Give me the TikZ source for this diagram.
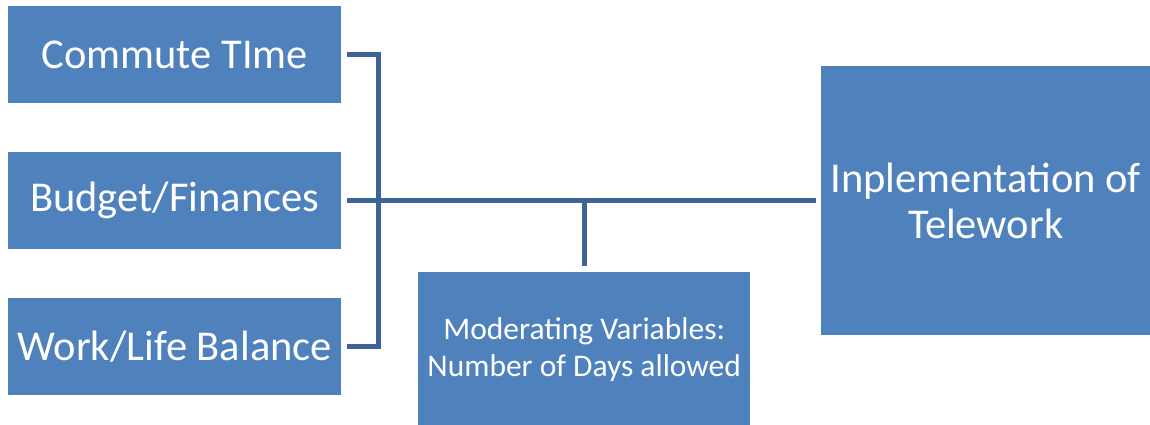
\documentclass[tikz,border=0pt]{standalone}
\usepackage{fontspec}
\setmainfont{Carlito}
\usepackage{tikz}
\usetikzlibrary{positioning}
\definecolor{box fill}{HTML}{4F81BD}
\definecolor{link line}{HTML}{3C6496}
\tikzset{box/.style={fill=box fill, draw=none, text=white, inner sep=0pt, anchor=north west, align=center},
    link/.style={draw=link line, line width=5pt}}

\begin{document}
\begin{tikzpicture}[x=1pt, y=-1pt]
    \useasboundingbox (0,0) rectangle (1150,425);
    \node[box, minimum width=333pt, minimum height=97pt, font=\fontsize{42.5}{50}\selectfont] (commute) at (8,6) {Commute TIme};
    \node[box, minimum width=333pt, minimum height=97pt, font=\fontsize{42.5}{50}\selectfont] (budget) at (8,152) {Budget/Finances};
    \node[box, minimum width=333pt, minimum height=97pt, font=\fontsize{42.5}{50}\selectfont] (worklife) at (8,298) {Work/Life Balance};
    \node[box, minimum width=332pt, minimum height=154pt, font=\fontsize{31.5}{37}\selectfont] (moderating) at (418,272) {Moderating Variables:\\Number of Days allowed};
    \node[box, minimum width=329pt, minimum height=269pt, font=\fontsize{42.5}{46}\selectfont] (telework) at (821,66) {Inplementation of\\Telework};
    % bracket from the three factors
    \draw[link] ([xshift=6pt]commute.east) -| ([xshift=37pt]budget.east) |- ([xshift=6pt]worklife.east);
    \draw[link] ([xshift=6pt]budget.east) -- ([xshift=-5pt]telework.west |- budget.east);
    \draw[link] ([yshift=6pt]moderating.north) -- (moderating.north |- budget.east);
\end{tikzpicture}
\end{document}
